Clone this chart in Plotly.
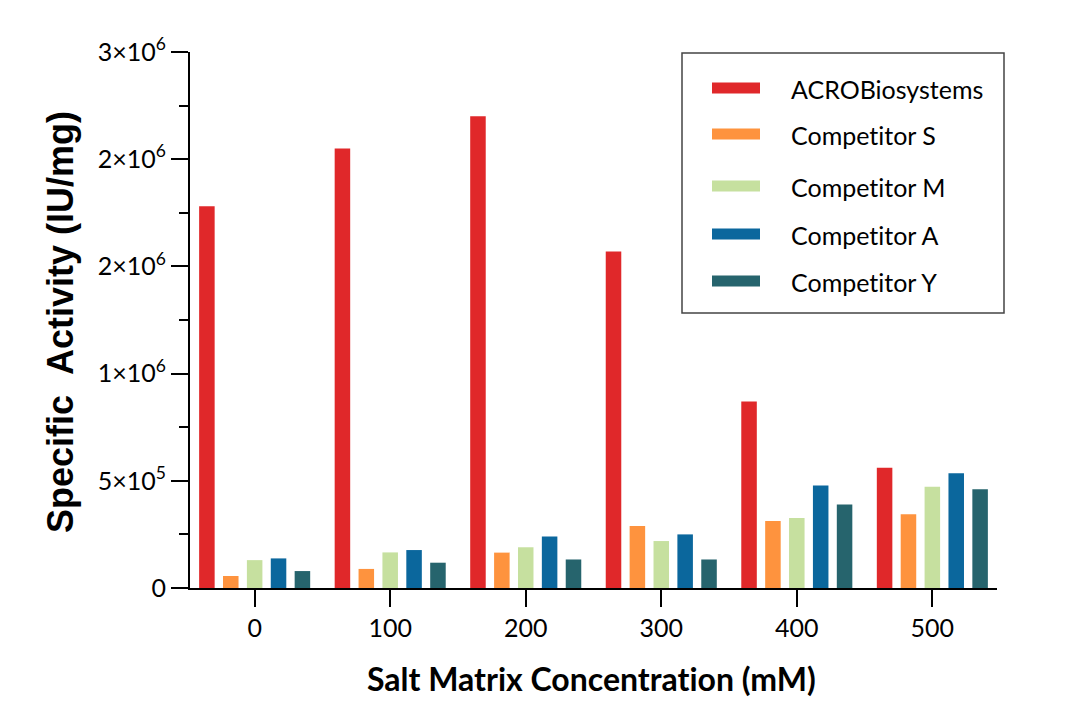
import plotly.graph_objects as go

categories = ["0", "100", "200", "300", "400", "500"]
series_names = ["ACROBiosystems", "Competitor S", "Competitor M", "Competitor A", "Competitor Y"]
acro = [1780000, 2050000, 2200000, 1570000, 870000, 561000]
comp_s = [56000, 89000, 165000, 289000, 313000, 344000]
comp_m = [130000, 166000, 190000, 219000, 326000, 472000]
comp_a = [138000, 177000, 240000, 250000, 478000, 535000]
comp_y = [79000, 118000, 133000, 133000, 390000, 461000]
colors = ["#E0282A", "#FE933E", "#C6E09F", "#0B679D", "#26646D"]
y_tickvals = [0, 500000, 1000000, 1500000, 2000000, 2500000]
y_ticktext = ["0", "5×10<sup>5</sup>", "1×10<sup>6</sup>", "2×10<sup>6</sup>",
              "2×10<sup>6</sup>", "3×10<sup>6</sup>"]

all_series = [acro, comp_s, comp_m, comp_a, comp_y]

ZWNJ = "\u200c"
def no_lig(s):
    # avoid the Lato "ti" ligature so the text looks like the reference
    return s.replace("ti", "t" + ZWNJ + "i")

fig = go.Figure()
for name, vals, col in zip(series_names, all_series, colors):
    fig.add_trace(go.Bar(x=categories, y=vals, name=name, marker_color=col,
                         marker_line_width=0, showlegend=False))

# plot area in pixels: x 190..997, y 52..588
L, R, T, B = 190, 997, 52, 588
W, H = R - L, B - T
def px(x):
    return (x - L) / W
def py(y):
    return (B - y) / H

fig.update_layout(
    width=1080, height=723,
    margin=dict(l=L, r=1080 - R, t=T, b=723 - B, autoexpand=False),
    paper_bgcolor="white", plot_bgcolor="white",
    barmode="group", bargap=0.119, bargroupgap=0.35,
    font=dict(family="Lato", color="black"),
    xaxis=dict(
        type="category", range=[-0.477, 5.477],
        showline=True, linecolor="black", linewidth=2,
        ticks="outside", ticklen=17, tickwidth=2, tickcolor="black",
        tickfont=dict(family="Lato", size=25, color="black"),
        showgrid=False, zeroline=False,
    ),
    yaxis=dict(
        range=[0, 2500000],
        tickvals=y_tickvals, ticktext=y_ticktext,
        showline=True, linecolor="black", linewidth=2,
        ticks="outside", ticklen=17, tickwidth=2, tickcolor="black",
        tickfont=dict(family="Lato", size=25, color="black"),
        minor=dict(ticks="outside", ticklen=9, tickwidth=2, tickcolor="black",
                   dtick=250000, tick0=0, showgrid=False),
        showgrid=False, zeroline=False,
    ),
)

# axis titles
fig.add_annotation(
    text="<b>Specific\u00a0\u00a0Activity (IU/mg)</b>", textangle=-90,
    xref="paper", yref="paper", x=px(60), y=py(322), xanchor="center", yanchor="middle",
    showarrow=False, font=dict(family="Liberation Sans", size=36, color="black"),
)
fig.add_annotation(
    text="<b>" + no_lig("Salt Matrix Concentration (mM)") + "</b>",
    xref="paper", yref="paper", x=px(591), y=py(678), xanchor="center", yanchor="middle",
    showarrow=False, font=dict(family="Lato", size=32, color="black"),
)

# legend box
fig.add_shape(type="rect", xref="paper", yref="paper",
              x0=px(682), x1=px(1004), y0=py(313), y1=py(53),
              line=dict(color="#444444", width=1.5), fillcolor="white", layer="above")
row_y = [88, 134, 186, 234, 281]
for name, col, ry in zip(series_names, colors, row_y):
    fig.add_shape(type="rect", xref="paper", yref="paper",
                  x0=px(712), x1=px(760), y0=py(ry + 5.5), y1=py(ry - 5.5),
                  line=dict(width=0), fillcolor=col, layer="above")
    fig.add_annotation(text=no_lig(name), xref="paper", yref="paper",
                       x=px(789), y=py(ry + 1), xanchor="left", yanchor="middle",
                       showarrow=False, font=dict(family="Lato", size=25, color="black"))

fig.write_html("out.html", post_script="document.body.style.margin='0';",
               config={"displayModeBar": False})
